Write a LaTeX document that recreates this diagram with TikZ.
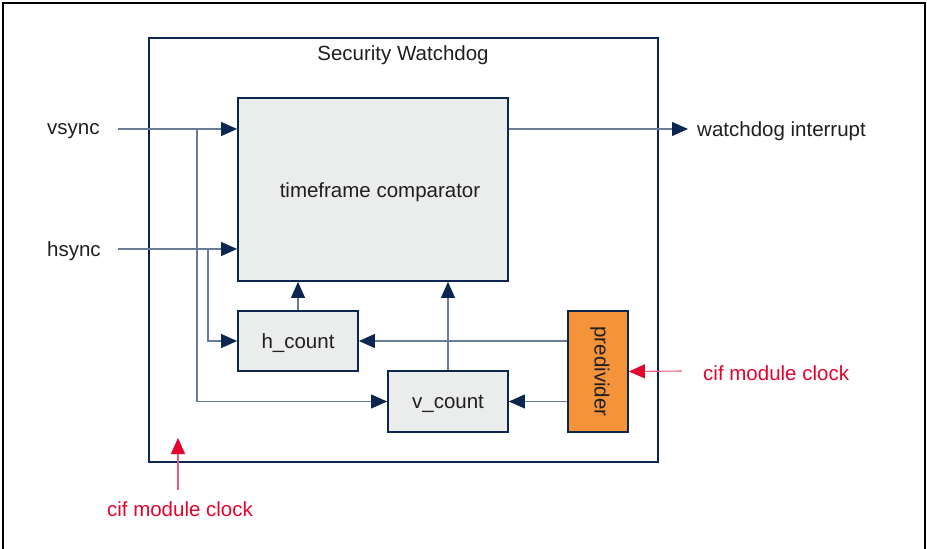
\documentclass[tikz,border=0pt]{standalone}
\usepackage{fontspec}
\setmainfont{Liberation Sans}
\usetikzlibrary{arrows.meta}
\definecolor{navy}{HTML}{0B2750}
\definecolor{wirec}{HTML}{687C98}
\definecolor{boxfill}{HTML}{EBECEC}
\definecolor{orng}{HTML}{F4933A}
\definecolor{redc}{HTML}{E4032E}
\begin{document}
\begin{tikzpicture}[x=1pt,y=-1pt,
  blk/.style={draw=navy, line width=1.8pt, fill=boxfill, inner sep=0pt},
  wire/.style={draw=wirec, line width=1.1pt},
  arr/.style={wire, -{Triangle[length=16pt,width=14pt,color=navy]}},
  redarr/.style={draw=redc!65, line width=1.1pt, -{Triangle[length=16pt,width=14pt,color=redc]}},
  lbl/.style={font=\fontsize{20.5}{24}\selectfont, text=black!88, inner sep=0pt},
  redlbl/.style={font=\fontsize{20.5}{24}\selectfont, text=redc, inner sep=0pt}]
\useasboundingbox (0,0) rectangle (927,549);
% outer frame
\draw[line width=1.6pt, black] (3,549) -- (3,3) -- (925,3) -- (925,549);
% watchdog block
\node[draw=navy, line width=1.8pt, minimum width=509pt, minimum height=424pt, inner sep=0pt] (wd) at (403.5,250) {};
\node[lbl] (title) at (403,55) {Security Watchdog};
% blocks
\node[blk, minimum width=270pt, minimum height=183pt] (comp) at (373,189.5) {};
\node[lbl] (comptext) at (380,192) {timeframe comparator};
\node[blk, minimum width=120pt, minimum height=60pt] (hcount) at (298,341) {};
\node[lbl] at ([yshift=-2pt]hcount.center) {h\_count};
\node[blk, minimum width=120pt, minimum height=61pt] (vcount) at (448,401.5) {};
\node[lbl] at ([yshift=-2pt]vcount.center) {v\_count};
\node[blk, fill=orng, minimum width=60pt, minimum height=121pt] (pred) at (598,371.5) {};
\node[lbl, rotate=-90] at ([xshift=2pt]pred.center) {predivider};
% inputs
\node[lbl, anchor=west] (vsync) at (47,131) {vsync};
\node[lbl, anchor=west] (hsync) at (47,251) {hsync};
\coordinate (vin) at (118,129);
\coordinate (hin) at (118,249);
\coordinate (vb) at (197,129);
\coordinate (hb) at (208,249);
\draw[arr] (vin) -- (comp.west |- vin);
\draw[arr] (hin) -- (comp.west |- hin);
\draw[arr] (vb) |- (vcount.west);
\draw[arr] (hb) |- (hcount.west);
% counters to comparator
\draw[arr] (hcount.north) -- (hcount.north |- comp.south);
\draw[arr] (vcount.north) -- (vcount.north |- comp.south);
% predivider to counters
\draw[arr] (pred.west |- hcount) -- (hcount.east);
\draw[arr] (pred.west |- vcount) -- (vcount.east);
% output
\coordinate (wdout) at (688,129);
\draw[arr] (comp.east |- vin) -- (wdout);
\node[lbl, anchor=west] (wdint) at (697,131) {watchdog interrupt};
% clocks
\coordinate (clk1) at (682,371);
\draw[redarr] (clk1) -- (pred.east);
\node[redlbl, anchor=west] (clk1t) at (703,373) {cif module clock};
\node[redlbl] (clk2) at (180,509) {cif module clock};
\coordinate (clk2tip) at (178,438);
\coordinate (clk2start) at (178,490);
\draw[redarr] (clk2start) -- (clk2tip);
\end{tikzpicture}
\end{document}
